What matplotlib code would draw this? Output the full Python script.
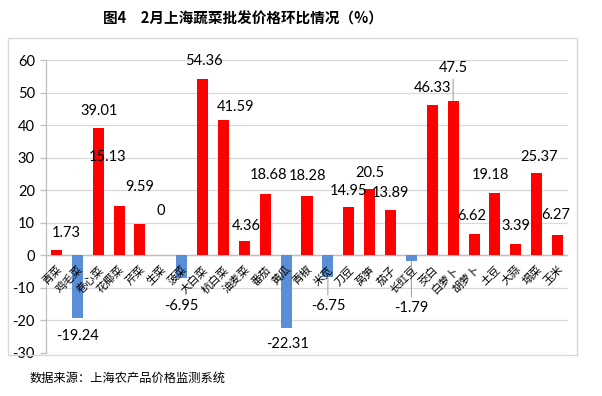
import matplotlib
matplotlib.use("Agg")
import matplotlib.pyplot as plt
from matplotlib.patches import Rectangle

plt.rcParams['font.family'] = ['Noto Sans CJK SC', 'DejaVu Sans']

categories = ["青菜", "鸡毛菜", "卷心菜", "花椰菜", "芹菜", "生菜", "菠菜", "大白菜",
              "杭白菜", "油麦菜", "番茄", "黄瓜", "青椒", "米苋", "刀豆", "莴笋",
              "茄子", "长豇豆", "茭白", "白萝卜", "胡萝卜", "土豆", "大蒜", "塌菜", "玉米"]
values = [1.73, -19.24, 39.01, 15.13, 9.59, 0, -6.95, 54.36, 41.59, 4.36, 18.68,
          -22.31, 18.28, -6.75, 14.95, 20.5, 13.89, -1.79, 46.33, 47.5, 6.62,
          19.18, 3.39, 25.37, 6.27]
value_labels = ["1.73", "-19.24", "39.01", "15.13", "9.59", "0", "-6.95", "54.36",
                "41.59", "4.36", "18.68", "-22.31", "18.28", "-6.75", "14.95", "20.5",
                "13.89", "-1.79", "46.33", "47.5", "6.62", "19.18", "3.39", "25.37", "6.27"]
yticks = [-30, -20, -10, 0, 10, 20, 30, 40, 50, 60]

title = "图4　2月上海蔬菜批发价格环比情况（%）"
source = "数据来源：上海农产品价格监测系统"

# label placement (pixels, relative to bar end; layout only)
label_dx = [9.5, 0, 1, -12, 0, 0, 0, 1, 12.5, 1.5, 3, 1, 1, 0, 0, 0, 0, 0, 0, 0,
            -2, -4, 0, 2, -1.5]
label_dy = [-16.5, 18, -17, -49, -37, -44, 28, -18, -13, -15, -19, 16, -20, 29, -16,
            -16, -17, 47, -17, -33, -18, -18, -18, -16, -20]
leader = [False] * 13 + [True] + [False] * 3 + [True, False, True] + [False] * 5

fig = plt.figure(figsize=(6.02, 3.96), dpi=100)
ax = fig.add_axes([46 / 602, 1 - 352.7 / 396, 522 / 602, (352.7 - 60.2) / 396])

x = list(range(len(values)))
colors = ["#FF0000" if v >= 0 else "#5A8ED6" for v in values]
ax.bar(x, values, width=0.53, color=colors, zorder=3)

ax.set_xlim(-0.5, len(values) - 0.5)
ax.set_ylim(-30, 60)
ax.set_yticks(yticks)
ax.set_yticklabels([str(t) for t in yticks], fontsize=10.5, family='Lato')
ax.tick_params(axis='y', length=4, pad=4, color='#BFBFBF', width=0.9)
ax.set_xticks([])
ax.grid(axis='y', color='#D9D9D9', linewidth=0.9, zorder=0)
for s in ax.spines.values():
    s.set_visible(False)
ax.spines['left'].set_visible(True)
ax.spines['left'].set_color('#BFBFBF')
ax.spines['left'].set_linewidth(0.9)
ax.axhline(0, color='#BFBFBF', linewidth=1.0, zorder=2)

px = 0.72
for i, (xi, v, lab) in enumerate(zip(x, values, value_labels)):
    kw = dict(textcoords='offset points', ha='center', va='center',
              fontsize=10.5, family='Lato', zorder=4)
    if leader[i]:
        kw['arrowprops'] = dict(arrowstyle='-', color='#A6A6A6', lw=0.8,
                                shrinkA=1, shrinkB=0)
    ax.annotate(lab, (xi, v), xytext=(label_dx[i] * px, -label_dy[i] * px), **kw)

for xi, c in zip(x, categories):
    ax.annotate(c, (xi, 0), xytext=(0, -6.5), textcoords='offset points',
                ha='right', va='top', rotation=45, rotation_mode='anchor',
                fontsize=8, zorder=5)

fig.patches.append(Rectangle((8 / 602, 1 - 355 / 396), (577 - 8) / 602, (355 - 38) / 396,
                             transform=fig.transFigure, fill=False,
                             edgecolor='#D9D9D9', linewidth=1.0))

fig.text(243 / 602, 1 - 19 / 396, title, ha='center', va='center', fontsize=10.5,
         fontweight='bold')
fig.text(30 / 602, 1 - 378 / 396, source, ha='left', va='center', fontsize=8.8)

fig.savefig("out.png", dpi=100)
